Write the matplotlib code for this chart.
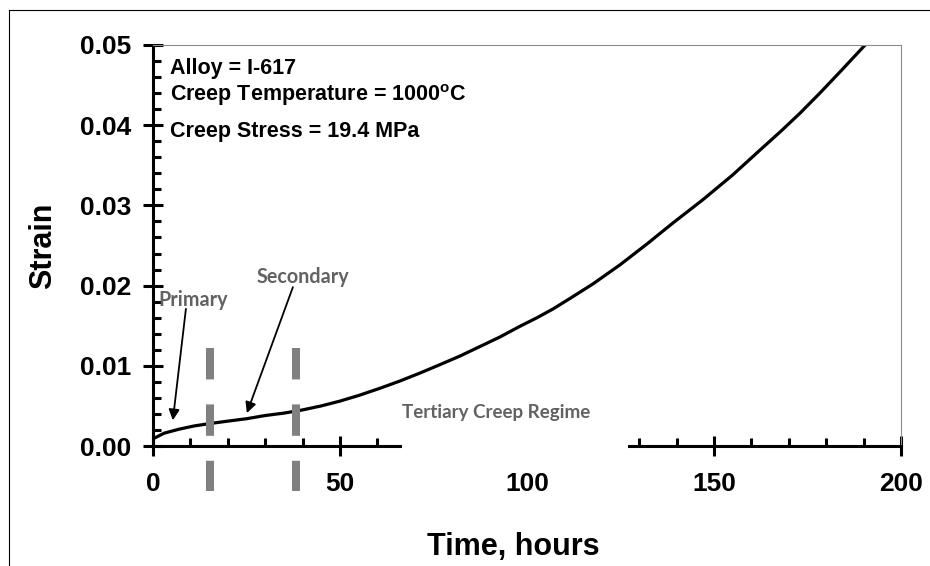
import matplotlib
matplotlib.use('Agg')
import matplotlib.pyplot as plt
from matplotlib.lines import Line2D
from matplotlib.patches import Rectangle
from matplotlib.ticker import MultipleLocator, FormatStrFormatter

# creep curve
time_h = [0, 3, 7, 11, 15.2, 20, 25, 30, 35, 40, 45, 50, 55, 60.7, 66,
          71.4, 76, 82, 87.4, 92.8, 98, 102.7, 107, 111.5, 117.6, 124.9,
          132.1, 139, 147, 155, 162.3, 168, 173, 178.3, 184, 190.4]
strain = [0.0009, 0.0016, 0.0021, 0.0025, 0.0028, 0.0031, 0.0034, 0.0038,
          0.0041, 0.0045, 0.0050, 0.0056, 0.0063, 0.0072, 0.0081, 0.0091,
          0.0100, 0.0112, 0.0124, 0.0136, 0.0149, 0.0160, 0.0171, 0.0184,
          0.0202, 0.0226, 0.0252, 0.0278, 0.0307, 0.0338, 0.0369, 0.0393,
          0.0415, 0.0440, 0.0468, 0.0500]

# regime boundaries (hours)
boundaries = [15.2, 38.2]

info_lines = ['Alloy = I-617',
              r'Creep Temperature = 1000$^{\mathregular{o}}$C',
              'Creep Stress = 19.4 MPa']

plt.rcParams['font.family'] = ['Liberation Sans', 'DejaVu Sans']
plt.rcParams['font.weight'] = 'bold'
plt.rcParams['mathtext.default'] = 'regular'

fig = plt.figure(figsize=(9.3, 5.66), dpi=100)
ax = fig.add_axes([153/930, 120/566, 748/930, 401/566])

ax.plot(time_h, strain, color='black', lw=2.3, zorder=2)

ax.set_xlim(0, 200)
ax.set_ylim(0, 0.05)
ax.xaxis.set_major_locator(MultipleLocator(50))
ax.xaxis.set_minor_locator(MultipleLocator(10))
ax.yaxis.set_major_locator(MultipleLocator(0.01))
ax.yaxis.set_minor_locator(MultipleLocator(0.002))
ax.yaxis.set_major_formatter(FormatStrFormatter('%.2f'))

for s in ['left', 'bottom']:
    ax.spines[s].set_linewidth(2.2)
    ax.spines[s].set_color('black')
for s in ['top', 'right']:
    ax.spines[s].set_linewidth(0.8)
    ax.spines[s].set_color('#8c8c8c')

ax.tick_params(which='major', direction='inout', length=14, width=2.2,
               labelsize=19)
ax.tick_params(which='minor', direction='in', length=5.5, width=2.2)
ax.tick_params(axis='y', which='major', pad=8.5)
ax.tick_params(axis='x', which='major', pad=12)
for lab in ax.get_xticklabels() + ax.get_yticklabels():
    lab.set_fontweight('bold')

ax.set_ylabel('Strain', fontsize=22, fontweight='bold')
ax.yaxis.label.set_verticalalignment('center')
ax.yaxis.set_label_coords(-0.147, 0.5)
ax.set_xlabel('Time, hours', fontsize=22, fontweight='bold')
ax.xaxis.label.set_verticalalignment('baseline')
ax.xaxis.set_label_coords(0.482, -0.272)

# dashed regime boundaries
for b in boundaries:
    ax.plot([b, b], [0.01222, -0.00561], color='#808080', lw=5.8,
            linestyle=(0, (3.9, 3.1)), solid_capstyle='butt',
            dash_capstyle='butt', clip_on=False, zorder=3)

# info text
for txt, yy in zip(info_lines, [0.04638, 0.04302, 0.03853]):
    ax.text(4.55, yy, txt, fontsize=15.5, fontweight='bold', va='baseline')

gray = '#626262'
gfont = ['Lato', 'DejaVu Sans']
ax.text(10.7, 0.01746, 'Primary', color=gray, fontsize=14.2,
        fontweight='bold', family=gfont, ha='center', va='baseline')
ax.text(27.8, 0.02032, 'Secondary', color=gray, fontsize=14.2,
        fontweight='bold', family=gfont, va='baseline')

arrow = dict(arrowstyle='-|>', color='black', lw=1.3, mutation_scale=16,
             shrinkA=0, shrinkB=0)
ax.annotate('', xy=(5.3, 0.0032), xytext=(8.8, 0.0171), arrowprops=arrow)
ax.annotate('', xy=(25.1, 0.0041), xytext=(37.4, 0.0198), arrowprops=arrow)

# white label box that hides part of the x axis
ax.add_patch(Rectangle((66.6, -0.0014), 127.0 - 66.6, 0.0081,
                       facecolor='white', edgecolor='none',
                       clip_on=False, zorder=3))
ax.text(66.6, 0.00349, 'Tertiary Creep Regime', color=gray, fontsize=13.5,
        fontweight='bold', family=gfont, va='baseline', zorder=4)

# outer frame
y_top = 1 - 10/566
fig.add_artist(Line2D([9/930, 1], [y_top, y_top], transform=fig.transFigure,
                      color='black', lw=0.8))
fig.add_artist(Line2D([9/930, 9/930], [0, y_top], transform=fig.transFigure,
                      color='black', lw=0.8))

fig.savefig('out.png', dpi=100, facecolor='white')
